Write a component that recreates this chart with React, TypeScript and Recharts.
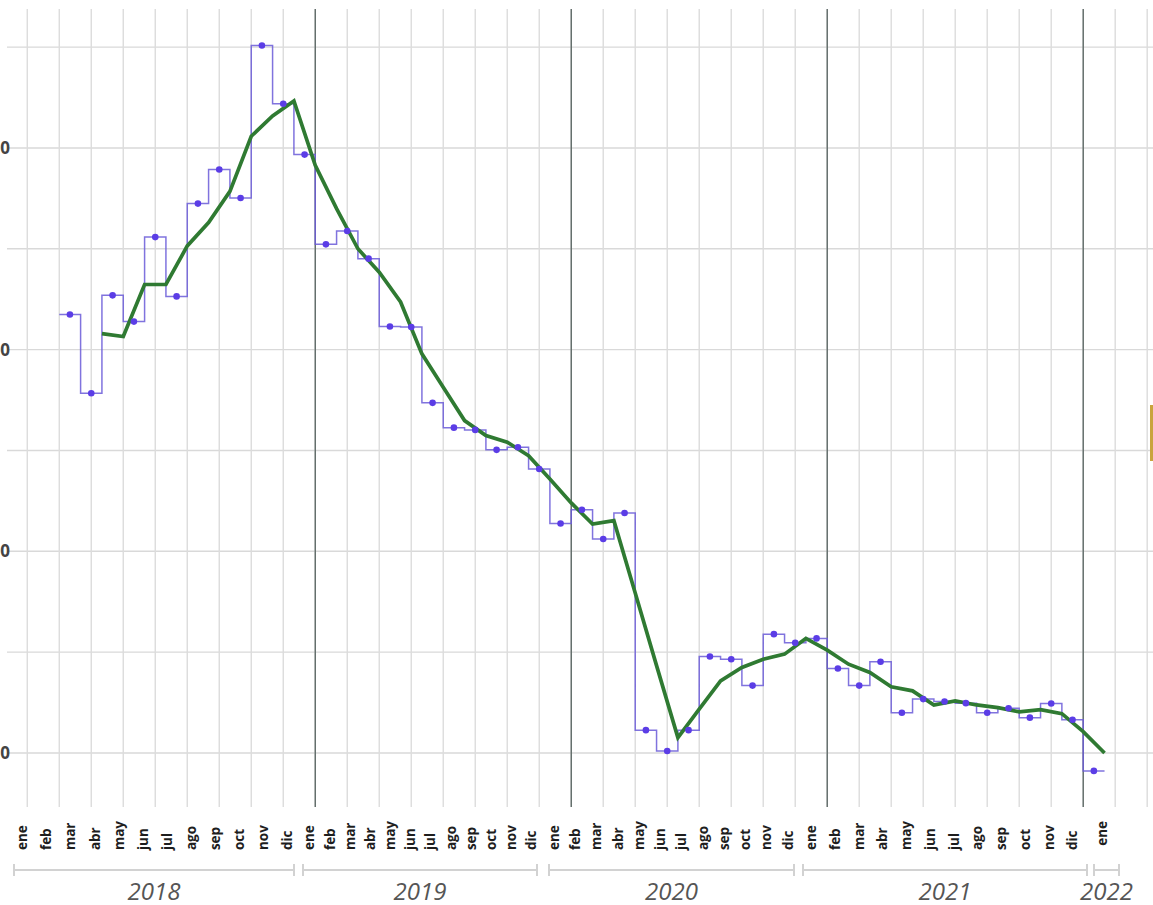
import { CartesianGrid, Line, LineChart, ReferenceLine, XAxis, YAxis } from "recharts";

const monthNames = ["ene", "feb", "mar", "abr", "may", "jun", "jul", "ago", "sep", "oct", "nov", "dic"];
const years = ["2018", "2019", "2020", "2021", "2022"];
const monthsInYear = [12, 12, 12, 12, 1];

// monthly values, ene 2018 .. ene 2022
const monthly = [
  217.4, 178.4, 226.9, 213.9, 255.8, 226.4, 272.4, 289.3, 275.2, 350.8, 321.9, 296.7,
  252.2, 258.8, 245.1, 211.5, 211.2, 173.6, 161.3, 160.2, 150.3, 151.6, 140.8, 113.8,
  120.6, 106.1, 119.0, 11.3, 1.0, 11.3, 47.8, 46.5, 33.4, 58.9, 54.6, 56.8,
  41.9, 33.4, 45.2, 19.9, 26.7, 25.5, 24.7, 19.9, 22.2, 17.5, 24.5, 16.5,
  -8.9,
];

// trend, drawn on month boundaries from feb/mar 2018 onwards
const trend = [
  207.9, 206.5, 232.3, 232.3, 251.4, 263.0, 278.5, 305.8, 315.9, 323.3,
  291.4, 269.9, 250.0, 238.4, 223.6, 197.9, 181.4, 164.8, 157.4, 154.1, 147.4, 135.9,
  124.0, 113.5, 115.2, 79.3, 43.3, 7.6, 21.7, 35.7, 42.4, 46.5, 49.0, 56.8,
  51.0, 44.0, 39.9, 32.8, 30.8, 23.8, 25.8, 23.8, 22.5, 20.4, 21.5, 19.5,
  10.6, 0.0,
];

const yTicks = [0, 50, 100, 150, 200, 250, 300, 350];

type Row = { t: number; step?: number | null; dot?: number | null; trend?: number | null };

const rows: Row[] = [];
for (let i = 0; i <= monthly.length; i++) {
  rows.push({
    t: i - 0.5,
    step: monthly[Math.min(i, monthly.length - 1)],
    trend: i >= 2 ? trend[i - 2] ?? null : null,
  });
  if (i < monthly.length) rows.push({ t: i, dot: monthly[i] });
}

const X_DOMAIN: [number, number] = [-2.95, 51.1];
const gridTicks: number[] = [];
for (let t = -2; t <= X_DOMAIN[1]; t += 1.5) gridTicks.push(t);
const yearBreaks = [11.5, 23.5, 35.5, 47.5];

// layout of the category strip under the plot
const monthBoxes = [
  [11, 289],
  [300, 242],
  [544, 255],
  [800, 285],
  [1091, 24],
];
const bracketBoxes = [
  [13, 282],
  [302, 236],
  [548, 247],
  [802, 286],
  [1093, 27],
];

function MonthStrip() {
  return (
    <>
      {years.map((y, yi) => {
        const [ml, mw] = monthBoxes[yi];
        const [bl, bw] = bracketBoxes[yi];
        return (
          <div key={y}>
            <div
              style={{
                position: "absolute",
                left: ml,
                width: mw,
                top: 821,
                display: "flex",
              }}
            >
              {monthNames.slice(0, monthsInYear[yi]).map((m) => (
                <div key={m} style={{ flex: 1, display: "flex", justifyContent: "center" }}>
                  <span
                    style={{
                      writingMode: "vertical-rl",
                      transform: "rotate(180deg)",
                      fontSize: 13.5,
                      fontWeight: 700,
                      lineHeight: 1,
                      color: "#1e1e1e",
                    }}
                  >
                    {m}
                  </span>
                </div>
              ))}
            </div>
            <div
              style={{
                position: "absolute",
                left: bl,
                width: bw,
                top: 869,
                height: 0,
                borderTop: "2px solid #d2d2d2",
              }}
            />
            <div style={{ position: "absolute", left: bl, top: 864, width: 2, height: 12, background: "#d2d2d2" }} />
            <div style={{ position: "absolute", left: bl + bw - 2, top: 864, width: 2, height: 12, background: "#d2d2d2" }} />
            <div
              style={{
                position: "absolute",
                left: bl - 20,
                width: bw + 40,
                top: 876,
                textAlign: "center",
                fontSize: 24,
                fontStyle: "italic",
                color: "#555",
                lineHeight: "30px",
              }}
            >
              {y}
            </div>
          </div>
        );
      })}
    </>
  );
}

export default function App() {
  return (
    <div
      style={{
        position: "fixed",
        left: 0,
        top: 0,
        width: 1153,
        height: 905,
        overflow: "hidden",
        background: "#fff",
        fontFamily: "'Open Sans', sans-serif",
      }}
    >
      <div style={{ position: "absolute", left: -53, top: 0 }}>
        <LineChart width={1213} height={807} data={rows} margin={{ top: 9, right: 0, bottom: 0, left: 0 }}>
          <CartesianGrid
            stroke="#d9d9d9"
            strokeWidth={1.4}
            vertical={false}
            horizontalValues={yTicks}
          />
          <XAxis type="number" dataKey="t" domain={X_DOMAIN} allowDataOverflow hide />
          <YAxis
            type="number"
            domain={[-26.8, 368.9]}
            allowDataOverflow
            ticks={yTicks}
            interval={0}
            width={60}
            axisLine={false}
            tickLine={false}
            tickSize={0}
            tickMargin={0}
            tickFormatter={(v: number) => (v % 100 === 0 ? String(v) : "")}
            tick={{ fill: "#444", fontSize: 17, fontWeight: 700, dx: 3 }}
          />
          {gridTicks.map((x) => (
            <ReferenceLine key={"g" + x} x={x} stroke="#dcdcdc" strokeWidth={1.4} />
          ))}
          {yearBreaks.map((x) => (
            <ReferenceLine key={x} x={x} stroke="#56625f" strokeWidth={1.3} />
          ))}
          <Line
            type="stepAfter"
            dataKey="step"
            stroke="#6a5ad8"
            strokeOpacity={0.85}
            strokeWidth={1.5}
            dot={false}
            activeDot={false}
            connectNulls
            isAnimationActive={false}
          />
          <Line
            type="linear"
            dataKey="trend"
            stroke="#2f7a32"
            strokeWidth={3.7}
            dot={false}
            activeDot={false}
            connectNulls
            isAnimationActive={false}
          />
          <Line
            type="linear"
            dataKey="dot"
            stroke="none"
            dot={{ r: 3.3, fill: "#5b3de6", stroke: "none" }}
            activeDot={false}
            isAnimationActive={false}
          />
        </LineChart>
      </div>
      <MonthStrip />
      <div style={{ position: "absolute", left: 1150, top: 405, width: 3, height: 56, background: "#c9a43c" }} />
    </div>
  );
}
